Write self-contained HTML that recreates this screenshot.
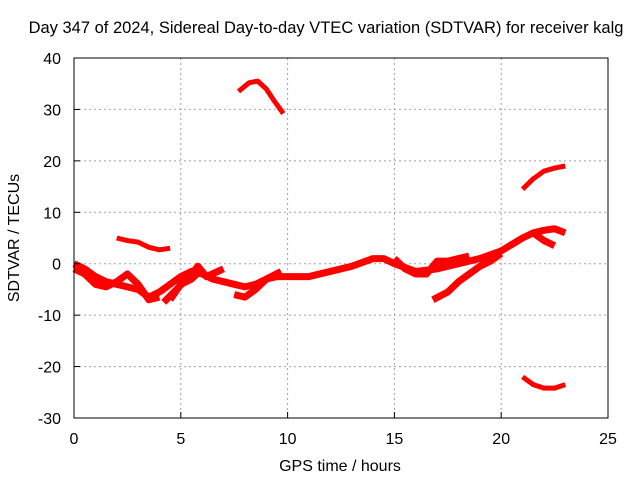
<!DOCTYPE html>
<html><head><meta charset="utf-8"><style>
body{margin:0;background:#fff;}
svg text{font-family:"Liberation Sans",sans-serif;font-size:16px;fill:#000;}
</style></head><body>
<svg id="chart" width="640" height="480" xmlns="http://www.w3.org/2000/svg">
<rect width="640" height="480" fill="#fff"/>
<g id="grid"></g>
<g id="series"></g>
<g id="axes"></g>
<text x="326" y="33" text-anchor="middle" style="font-size:16.5px">Day 347 of 2024, Sidereal Day-to-day VTEC variation (SDTVAR) for receiver kalg</text>
<text x="340" y="471" text-anchor="middle">GPS time / hours</text>
<text x="19" y="238" text-anchor="middle" transform="rotate(-90 19 238)">SDTVAR / TECUs</text>
</svg>
<script>
const xTicks=[0,5,10,15,20,25];
const yTicks=[-30,-20,-10,0,10,20,30,40];
const segTopArc=[[7.7,33.5],[8.2,35.2],[8.6,35.5],[9.0,34],[9.4,31.5],[9.8,29.2]];
const segUpper=[[2.0,5],[2.5,4.5],[3.0,4.2],[3.5,3.2],[4.0,2.7],[4.5,3]];
const segLateHigh=[[21,14.5],[21.5,16.5],[22,18],[22.5,18.6],[23,19]];
const segLateLow=[[21,-22],[21.5,-23.5],[22,-24.2],[22.5,-24.2],[23,-23.5]];
const segMainA=[[0,0],[0.5,-1],[1,-2.5],[1.5,-3.5],[2,-4],[2.5,-4.5],[3,-5],[3.5,-6.5],[4,-5.5],[4.5,-4],[5,-2.5],[5.5,-1.5],[6,-2],[6.5,-3],[7,-3.5],[7.5,-4],[8,-4.5],[8.5,-4],[9,-3],[9.5,-2.5],[10,-2.5],[11,-2.5],[12,-1.5],[13,-0.5],[14,1],[14.5,1],[15,0],[16,-1.5],[17,-1],[18,0],[19,1],[20,2.5],[21,5],[21.5,6],[22,4.5],[22.5,3.5]];
const segMainB=[[0,-1],[0.5,-2],[1,-4],[1.5,-4.5],[2,-3.5],[2.5,-2],[3,-4],[3.5,-7],[4,-6.5]];
const segMainC=[[4.2,-7.5],[4.8,-5],[5.5,-2],[5.8,-0.5],[6.2,-2.5],[7,-1]];
const segMainD=[[7.5,-6],[8,-6.5],[8.5,-5],[9,-3],[9.7,-1.5]];
const segMainE=[[16.8,-7],[17.5,-5.5],[18,-3.5],[18.5,-2],[19,-0.5],[19.5,0.5],[20,2]];
const segMainF=[[15,1],[15.5,-1],[16,-2],[16.5,-2],[17,0.5],[17.5,0.5],[18,1],[18.5,1.5]];
const segMainG=[[21.5,6],[22,6.5],[22.5,6.8],[23,6]];
const segMainH=[[4.5,-7],[5,-4],[5.5,-3],[6,-1]];
const segments=[segTopArc,segUpper,segLateHigh,segLateLow,segMainA,segMainB,segMainC,segMainD,segMainE,segMainF,segMainG,segMainH];

const L=74,R=608,T=58,B=418;
const X=v=>L+(v-0)/(25-0)*(R-L);
const Y=v=>B-(v+30)/(70)*(B-T);
const NS="http://www.w3.org/2000/svg";
function mk(tag,attrs,parent){const e=document.createElementNS(NS,tag);for(const k in attrs)e.setAttribute(k,attrs[k]);document.getElementById(parent).appendChild(e);return e;}
xTicks.forEach(t=>{
  if(t>0&&t<25){const g=mk('line',{x1:X(t),x2:X(t),y1:T,y2:B,stroke:'#a0a0a0','stroke-dasharray':'2,3'},'grid');
  }
  const tk=mk('line',{x1:X(t),x2:X(t),y1:B,y2:B-6,stroke:'#000'},'axes');
  
  const lb=mk('text',{x:X(t),y:B+26,'text-anchor':'middle'},'axes');lb.textContent=t;
  
});
yTicks.forEach(t=>{
  if(t>-30&&t<40){const g=mk('line',{x1:L,x2:R,y1:Y(t),y2:Y(t),stroke:'#a0a0a0','stroke-dasharray':'2,3'},'grid');
  }
  const tk=mk('line',{x1:L,x2:L+6,y1:Y(t),y2:Y(t),stroke:'#000'},'axes');
  
  const lb=mk('text',{x:L-13,y:Y(t)+6,'text-anchor':'end'},'axes');lb.textContent=t;
  
});
const fr=mk('rect',{x:L,y:T,width:R-L,height:B-T,fill:'none',stroke:'#000'},'axes');

segments.forEach((s,i)=>{
  const p=mk('polyline',{points:s.map(d=>X(d[0])+','+Y(d[1])).join(' '),fill:'none',stroke:'#f00','stroke-width':i>=4?7:5,'stroke-linejoin':'round','stroke-linecap':'butt'},'series');
  
});
</script>
</body></html>
